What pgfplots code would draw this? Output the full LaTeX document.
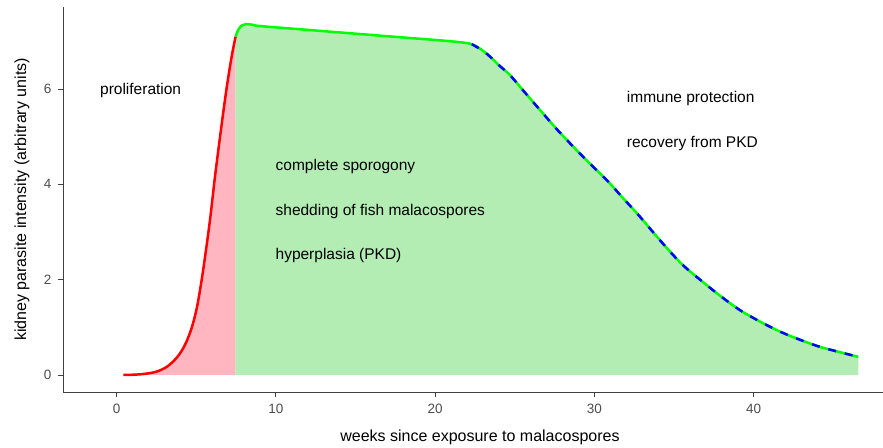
\documentclass[border=0pt]{standalone}
\usepackage{pgfplots}
\pgfplotsset{compat=1.18}
\usepackage{fontspec}
\setmainfont{Liberation Sans}
\definecolor{pinkfill}{RGB}{255,182,193}
\definecolor{greenfill}{RGB}{179,237,179}
\definecolor{axgray}{RGB}{77,77,77}
\definecolor{linegreen}{RGB}{0,255,0}
\definecolor{lineblue}{RGB}{0,0,255}
\definecolor{linered}{RGB}{255,0,0}

\pgfplotstableread{
x y
0.42 0.0
1.0 0.005
1.5 0.015
2.1 0.04
2.6 0.08
3.14 0.17
3.6 0.30
3.97 0.45
4.3 0.64
4.6 0.88
4.85 1.15
5.1 1.52
5.44 2.22
5.86 3.25
6.17 4.15
6.59 5.25
6.91 6.03
7.22 6.68
7.47 7.10
}\redtab

\pgfplotstableread{
x y
7.47 7.10
7.65 7.25
7.85 7.33
8.1 7.36
8.5 7.35
9.0 7.32
12 7.24
15 7.16
18 7.08
21 7.00
22.3 6.94
23.0 6.80
23.44 6.68
24.0 6.50
24.7 6.29
25.6 5.94
26.58 5.56
27.6 5.17
28.67 4.79
29.7 4.44
30.77 4.09
31.8 3.71
32.86 3.32
33.8 2.95
34.74 2.59
35.6 2.29
36.63 2.00
37.9 1.66
39.14 1.36
40.4 1.12
41.65 0.91
42.9 0.74
44.16 0.59
45.4 0.48
46.57 0.38
}\greentab

\pgfplotstableread{
x y
22.3 6.94
23.0 6.80
23.44 6.68
24.0 6.50
24.7 6.29
25.6 5.94
26.58 5.56
27.6 5.17
28.67 4.79
29.7 4.44
30.77 4.09
31.8 3.71
32.86 3.32
33.8 2.95
34.74 2.59
35.6 2.29
36.63 2.00
37.9 1.66
39.14 1.36
40.4 1.12
41.65 0.91
42.9 0.74
44.16 0.59
45.4 0.48
46.57 0.38
}\bluetab

\begin{document}
\begin{tikzpicture}
\begin{axis}[
  scale only axis, width=820bp, height=385bp,
  xmin=-3.37, xmax=48.12, ymin=-0.357, ymax=7.72,
  axis x line*=bottom, axis y line*=left,
  axis line style={black!75, line width=0.9bp, -},
  xtick={0,10,20,30,40}, ytick={0,2,4,6},
  tick align=outside, major tick length=5bp,
  tick style={black!75, line width=0.9bp},
  ticklabel style={font=\fontsize{13.5bp}{16bp}\selectfont, text=axgray},
  xticklabel style={yshift=-4bp},
  yticklabel style={xshift=-3bp},
  /pgf/number format/assume math mode=true,
  xlabel={weeks since exposure to malacospores},
  ylabel={kidney parasite intensity (arbitrary units)},
  every axis x label/.style={at={(rel axis cs:0.5085,-0.1169)}, anchor=center, font=\fontsize{16bp}{19bp}\selectfont},
  every axis y label/.style={at={(rel axis cs:-0.05,0.5)}, anchor=center, rotate=90, font=\fontsize{16bp}{19bp}\selectfont},
  clip=false,
]
\addplot[fill=pinkfill, draw=none, smooth] table {\redtab} \closedcycle;
\addplot[fill=greenfill, draw=none, smooth] table {\greentab} \closedcycle;
\addplot[linered, line width=2.5bp, smooth] table {\redtab};
\addplot[linegreen, line width=2.5bp, smooth] table {\greentab};
\addplot[lineblue, line width=2.5bp, smooth, dash pattern=on 8bp off 9bp] table {\bluetab};

\begin{scope}[every node/.style={anchor=west, inner sep=0pt, font=\fontsize{15.5bp}{18bp}\selectfont}]
\node at (axis cs:-1.05,5.96) {proliferation};
\node at (axis cs:9.97,4.37) {complete sporogony};
\node at (axis cs:9.97,3.43) {shedding of fish malacospores};
\node at (axis cs:9.97,2.50) {hyperplasia (PKD)};
\node at (axis cs:32.03,5.81) {immune protection};
\node at (axis cs:32.03,4.86) {recovery from PKD};
\end{scope}
\coordinate (bbl) at (rel axis cs:-0.07683,-0.14545);
\coordinate (bbr) at (rel axis cs:1,1.01818);
\end{axis}
\pgfresetboundingbox
\path (bbl) rectangle (bbr);
\end{tikzpicture}
\end{document}
